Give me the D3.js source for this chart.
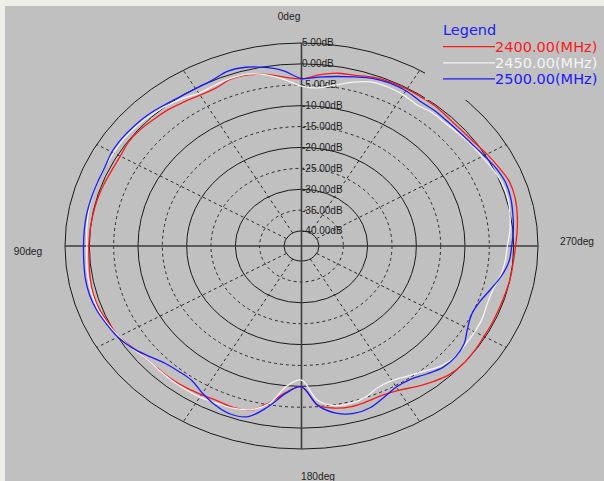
<!DOCTYPE html>
<html><head><meta charset="utf-8">
<script src="https://cdn.jsdelivr.net/npm/d3@7"></script>
<style>html,body{margin:0;padding:0;background:#eef0e8;overflow:hidden}svg{display:block}</style>
</head><body>
<svg id="chart" width="604" height="481"></svg>
<script>
// ---- data ----
const anglesDeg = [0,5,10,15,20,25,30,35,40,45,50,55,60,65,70,75,80,85,90,95,100,105,110,115,120,125,130,135,140,145,150,155,160,165,170,175,180,185,190,195,200,205,210,215,220,225,230,235,240,245,250,255,260,265,270,275,280,285,290,295,300,305,310,315,320,325,330,335,340,345,350,355];
const red2400 = [-3.6,-3.0,-1.9,-1.2,-1.1,-1.9,-1.9,-1.5,-1.0,-0.7,-0.3,-0.2,-0.6,-0.6,-0.4,-0.2,-0.1,0.0,0.1,0.2,0.5,0.7,0.6,0.1,-0.3,-1.2,-1.8,-2.0,-2.0,-2.2,-2.5,-2.7,-2.5,-2.9,-5.5,-8.5,-9.9,-5.4,-4.2,-3.8,-4.0,-4.2,-3.7,-2.5,-1.3,-0.3,0.0,-0.1,-0.3,-0.3,-0.3,-0.2,0.0,0.1,0.4,0.9,1.4,1.8,1.8,1.1,0.4,-0.3,-0.6,-0.6,-0.3,-0.3,-0.25,-0.3,-0.6,-1.3,-1.6,-2.5];
const white2450 = [-5.3,-3.6,-2.0,-1.0,-0.9,-1.2,-1.4,-0.6,0.0,0.4,0.8,1.0,1.0,1.0,1.0,1.0,0.9,0.7,0.5,0.7,0.9,1.0,0.9,0.4,-0.3,-1.0,-1.8,-1.9,-1.8,-1.8,-1.8,-2.1,-2.3,-3.0,-5.3,-10.0,-11.5,-6.6,-4.8,-4.6,-5.1,-6.3,-6.4,-5.6,-4.5,-3.0,-2.4,-2.5,-2.5,-2.6,-3.0,-2.9,-2.1,-1.6,-1.3,-0.6,-0.1,0.3,0.3,-0.2,-0.8,-1.1,-1.6,-1.9,-1.9,-2.3,-1.8,-1.6,-1.8,-3.0,-4.5,-5.6];
const blue2500 = [-3.5,-1.5,-0.2,0.7,0.9,0.1,-0.1,0.0,0.4,0.9,1.2,1.4,1.4,1.0,1.0,1.1,1.2,1.2,1.2,1.3,1.5,1.5,1.2,0.6,0.0,-1.1,-2.6,-3.9,-4.4,-4.3,-2.9,-1.6,-0.8,-1.3,-4.6,-8.3,-9.9,-5.3,-3.0,-2.1,-2.4,-3.6,-4.6,-4.6,-3.6,-2.5,-2.3,-2.8,-4.2,-5.0,-4.6,-3.4,-1.9,-0.8,-0.4,0.1,0.5,0.9,1.0,0.5,-0.3,-0.9,-1.2,-1.3,-1.2,-1.2,-0.7,-0.6,-0.9,-1.7,-2.4,-3.0];
const ringDb = [5,0,-5,-10,-15,-20,-25,-30,-35,-40];
const ringLabels = ["5.00dB","0.00dB","-5.00dB","-10.00dB","-15.00dB","-20.00dB","-25.00dB","-30.00dB","-35.00dB","-40.00dB"];
const ringDashed = [false,false,true,false,true,false,true,false,true,false];
const spokeDeg = [30,60,120,150,210,240,300,330];
const axisDeg = [0,90,180,270];
const axisLabels = ["0deg","90deg","180deg","270deg"];
const seriesNames = ["2400.00(MHz)","2450.00(MHz)","2500.00(MHz)"];
const seriesColors = ["#ff1a1a","#f4f4f4","#1a1aff"];
const legendTitle = "Legend";

// ---- layout ----
const cx = 301.5, cy = 246, k = 0.8584;
const r = d3.scaleLinear().domain([-40,5]).range([17.5,236.5]);
const ang = d3.scaleLinear().domain([0,360]).range([0,2*Math.PI]);
const px = (deg, db) => cx - r(db)*Math.sin(ang(deg));
const py = (deg, db) => cy - r(db)*k*Math.cos(ang(deg));

const svg = d3.select("#chart");
svg.append("rect").attr("x",5).attr("y",6).attr("width",599).attr("height",475).attr("fill","#c0c0c0");

const g = svg.append("g");
// rings
g.selectAll("ellipse.ring").data(ringDb).join("ellipse")
  .attr("cx",cx).attr("cy",cy)
  .attr("rx",d=>r(d)).attr("ry",d=>r(d)*k)
  .attr("fill","none").attr("stroke",(d,i)=>ringDashed[i]?"#2a2a2a":"#1a1a1a")
  .attr("stroke-width",1)
  .attr("stroke-dasharray",(d,i)=>ringDashed[i]?"3,3":null);
// spokes
g.selectAll("line.spoke").data(spokeDeg).join("line")
  .attr("x1",d=>px(d,-40)).attr("y1",d=>py(d,-40))
  .attr("x2",d=>px(d,5)).attr("y2",d=>py(d,5))
  .attr("stroke","#2a2a2a").attr("stroke-width",1).attr("stroke-dasharray","3,3");
// main axes
g.selectAll("line.axis").data([0,90]).join("line")
  .attr("x1",d=>px(d,5)).attr("y1",d=>py(d,5))
  .attr("x2",d=>px(d+180,5)).attr("y2",d=>py(d+180,5))
  .attr("stroke","#3c3c3c").attr("stroke-width",1.6);
// ring labels
g.selectAll("text.rl").data(ringDb).join("text")
  .attr("x",cx+0.5).attr("y",d=>py(0,d))
  .attr("dominant-baseline","central")
  .attr("font-family","Liberation Sans, Arial, sans-serif").attr("font-size",10)
  .attr("fill","#1e1e1e")
  .text((d,i)=>ringLabels[i]);
// axis labels
const axPos = [[289,16],[28,251],[318,476],[577,241]];
g.selectAll("text.al").data(axisDeg).join("text")
  .attr("x",(d,i)=>axPos[i][0]).attr("y",(d,i)=>axPos[i][1])
  .attr("text-anchor","middle").attr("dominant-baseline","central")
  .attr("font-family","Liberation Sans, Arial, sans-serif").attr("font-size",10.2)
  .attr("fill","#1e1e1e")
  .text((d,i)=>axisLabels[i]);

// curves
const series = [red2400, white2450, blue2500];
const line = d3.line()
  .x(d=>px(d[0],d[1])).y(d=>py(d[0],d[1]))
  .curve(d3.curveCatmullRomClosed.alpha(0.5));
series.forEach((vals,si)=>{
  const pts = anglesDeg.map((a,i)=>[a, vals[i]]);
  g.append("path").attr("d",line(pts)).attr("fill","none")
    .attr("stroke",seriesColors[si]).attr("stroke-width",1.3);
});

// legend box (opaque)
const lg = svg.append("g");
lg.append("rect").attr("x",425).attr("y",14).attr("width",179).attr("height",86).attr("fill","#c0c0c0");
lg.append("text").attr("x",443).attr("y",30).attr("dominant-baseline","central")
  .attr("font-family","DejaVu Sans, sans-serif").attr("font-size",14.5).attr("fill","#2020f0")
  .text(legendTitle);
const ly = d3.scaleLinear().domain([0,1]).range([46.7,62.8]);
seriesNames.forEach((n,i)=>{
  lg.append("line").attr("x1",443).attr("x2",495).attr("y1",ly(i)).attr("y2",ly(i))
    .attr("stroke",seriesColors[i]).attr("stroke-width",1.2);
  lg.append("text").attr("x",495).attr("y",ly(i)+0.5).attr("dominant-baseline","central")
    .attr("font-family","DejaVu Sans, sans-serif").attr("font-size",14.5)
    .attr("fill",seriesColors[i]).text(n);
});
</script>
</body></html>
